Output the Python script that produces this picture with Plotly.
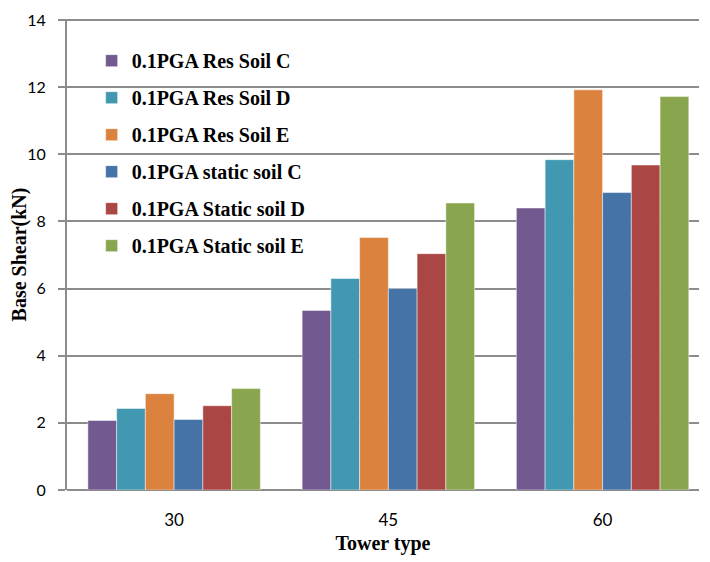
import plotly.graph_objects as go

categories = ["30", "45", "60"]
series_names = [
    "0.1PGA Res Soil C",
    "0.1PGA Res Soil D",
    "0.1PGA Res Soil E",
    "0.1PGA static soil C",
    "0.1PGA Static soil D",
    "0.1PGA Static soil E",
]
res_soil_c = [2.07, 5.35, 8.40]
res_soil_d = [2.43, 6.30, 9.84]
res_soil_e = [2.87, 7.52, 11.92]
static_soil_c = [2.10, 6.00, 8.86]
static_soil_d = [2.51, 7.04, 9.68]
static_soil_e = [3.02, 8.55, 11.72]
y_ticks = [0, 2, 4, 6, 8, 10, 12, 14]

series_values = [res_soil_c, res_soil_d, res_soil_e, static_soil_c, static_soil_d, static_soil_e]
colors = ["#72598f", "#4298b0", "#db823e", "#4572a7", "#aa4643", "#89a54e"]

fig = go.Figure()
for i, (name, vals, col) in enumerate(zip(series_names, series_values, colors)):
    fig.add_trace(go.Bar(
        x=categories, y=vals, name=name,
        marker=dict(color=col, line=dict(color="rgba(255,255,255,0.6)", width=0.8)),
        legendgroup=f"g{i}",
    ))

# page body adds an 8px offset, so the figure is drawn 8px smaller
fig.update_layout(
    width=702, height=554,
    margin=dict(l=59, r=11, t=11, b=72),
    paper_bgcolor="white", plot_bgcolor="white",
    barmode="group", bargap=0.195, bargroupgap=0,
    showlegend=True,
    legend=dict(
        x=0.039, y=0.953, xanchor="left", yanchor="top",
        bgcolor="rgba(0,0,0,0)",
        font=dict(family="Liberation Serif", size=20, color="black", weight="bold"),
        traceorder="grouped", tracegroupgap=8,
        itemwidth=30,
    ),
    xaxis=dict(
        type="category", range=[-0.5, 2.45], automargin=False,
        showline=False, showgrid=False, ticks="",
        ticklabelstandoff=18,
        tickfont=dict(family="Lato", size=17, color="black"),
        title=dict(text="Tower type", font=dict(family="Liberation Serif", size=20, color="black", weight="bold"), standoff=6),
    ),
    yaxis=dict(
        range=[0, 14.03], tickvals=y_ticks, automargin=False,
        ticklabeloverflow="allow",
        showgrid=True, gridcolor="#8c8c8c", gridwidth=2,
        showline=True, linecolor="#8c8c8c", linewidth=2,
        ticks="outside", ticklen=7, tickcolor="#8c8c8c", tickwidth=2,
        ticklabelstandoff=9,
        zeroline=True, zerolinecolor="#8c8c8c", zerolinewidth=2,
        tickfont=dict(family="Lato", size=16, color="black"),
        title=dict(text="Base Shear(kN)", font=dict(family="Liberation Serif", size=20, color="black", weight="bold"), standoff=0),
    ),
)

fig.write_html("out.html")
